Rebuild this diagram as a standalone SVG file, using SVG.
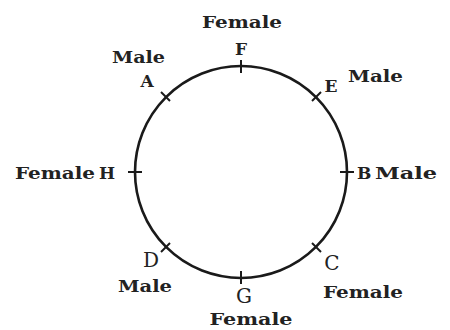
<svg xmlns="http://www.w3.org/2000/svg" width="450" height="330" viewBox="0 0 450 330">
<style>
.t{font-family:"DejaVu Serif","Liberation Serif",serif;font-size:17px;fill:#222;font-weight:bold}
.b{font-size:20px;font-weight:normal}
.c{fill:none;stroke:#1a1a1a;stroke-width:2.6}
.k{stroke:#1a1a1a;stroke-width:2}
</style>
<rect width="450" height="330" fill="#fff"/>
<g id="connectors">
<circle class="c" cx="241" cy="172" r="106"/>
</g>
<g id="F"><line class="k" x1="241" y1="60" x2="241" y2="73"/><text class="t" x="241" y="55" text-anchor="middle">F</text><text class="t" x="242" y="28" text-anchor="middle" textLength="80" lengthAdjust="spacingAndGlyphs">Female</text></g>
<g id="E"><line class="k" x1="312" y1="101" x2="321" y2="92"/><text class="t" x="331" y="92" text-anchor="middle">E</text><text class="t" x="348" y="82" textLength="55" lengthAdjust="spacingAndGlyphs">Male</text></g>
<g id="B"><line class="k" x1="340" y1="172" x2="354" y2="172"/><text class="t" x="357" y="179">B</text><text class="t" x="375" y="179" textLength="62" lengthAdjust="spacingAndGlyphs">Male</text></g>
<g id="C"><line class="k" x1="312" y1="243" x2="321" y2="252"/><text class="t b" x="332" y="270" text-anchor="middle">C</text><text class="t" x="323" y="298" textLength="80" lengthAdjust="spacingAndGlyphs">Female</text></g>
<g id="G"><line class="k" x1="241" y1="271" x2="241" y2="284"/><text class="t b" x="244" y="303" text-anchor="middle">G</text><text class="t" x="251" y="325" text-anchor="middle" textLength="83" lengthAdjust="spacingAndGlyphs">Female</text></g>
<g id="D"><line class="k" x1="161" y1="252" x2="170" y2="243"/><text class="t b" x="151" y="267" text-anchor="middle">D</text><text class="t" x="118" y="292" textLength="54" lengthAdjust="spacingAndGlyphs">Male</text></g>
<g id="H"><line class="k" x1="128" y1="172" x2="142" y2="172"/><text class="t" x="115" y="179" text-anchor="end">H</text><text class="t" x="15" y="179" textLength="80" lengthAdjust="spacingAndGlyphs">Female</text></g>
<g id="A"><line class="k" x1="161" y1="92" x2="170" y2="101"/><text class="t" x="147" y="87" text-anchor="middle">A</text><text class="t" x="112" y="63" textLength="53" lengthAdjust="spacingAndGlyphs">Male</text></g>
</svg>
